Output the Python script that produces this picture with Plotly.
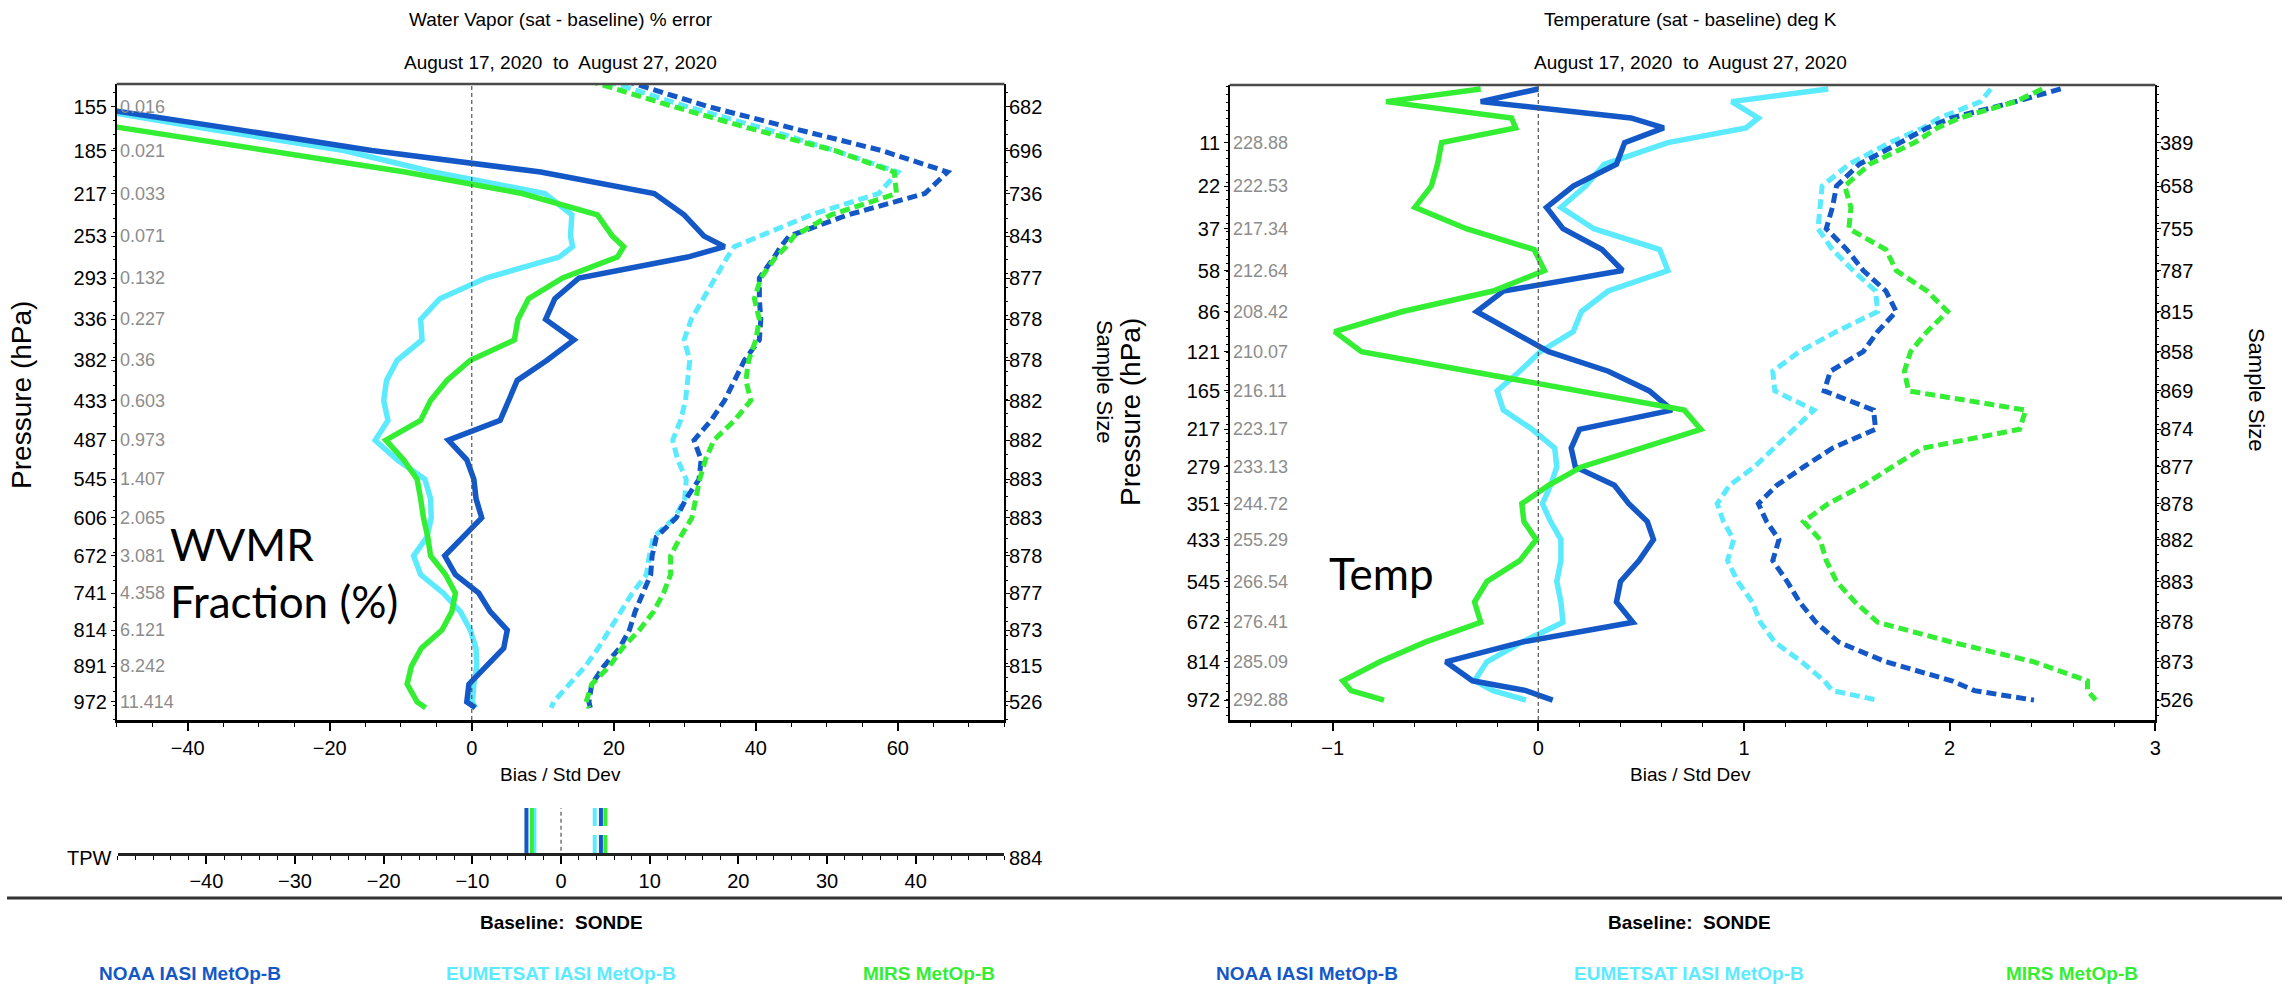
import numpy as np
import plotly.graph_objects as go

# ---------------- Water vapour panel (percent error) ----------------
wv_p = [135.0, 155.9, 170.1, 185.2, 201.0, 217.7, 235.2, 253.7, 263.2, 272.9,
        293.1, 314.1, 336.1, 359.0, 382.8, 407.5, 433.2, 459.7, 487.3, 515.7,
        545.2, 575.5, 606.9, 639.1, 672.4, 706.6, 741.8, 777.8, 814.9, 852.8,
        891.7, 931.5, 972.3, 986.1]

wv_noaa_bias = [-75, -54.0, -33.8, -14.1, 9.7, 25.7, 29.9, 32.7, 35.6, 30.4,
                15.1, 11.7, 10.4, 14.4, 10.6, 6.4, 5.2, 4.0, -3.3, -0.7,
                0.3, 0.6, 1.4, -1.1, -3.8, -2.3, 1.0, 2.6, 5.0, 4.5,
                2.0, -0.4, -0.7, 0.5]
wv_eum_bias = [-75, -55.5, -37.4, -18.0, -5.4, 10.3, 14.1, 13.9, 14.2, 12.3,
               2.0, -4.5, -7.2, -7.0, -10.5, -12.0, -12.4, -11.8, -13.6, -10.5,
               -6.6, -5.8, -5.7, -6.3, -8.2, -7.2, -4.0, -1.6, -0.2, 0.6,
               0.7, 0.3, 0.1, 0.5]
wv_mirs_bias = [-75, -68.8, -48.6, -29.3, -9.4, 7.1, 17.7, 19.8, 21.4, 20.5,
                12.8, 8.0, 6.5, 6.0, -0.2, -3.5, -5.8, -7.2, -12.1, -9.6,
                -7.7, -7.2, -6.8, -6.2, -5.8, -3.7, -2.3, -2.8, -4.2, -7.1,
                -8.5, -9.1, -7.7, -6.5]
wv_noaa_std = [17.5, 33.4, 45.4, 57.7, 67.0, 63.8, 53.0, 44.7, 43.5, 42.6,
               40.5, 40.5, 40.7, 40.5, 38.4, 37.0, 35.6, 33.7, 31.3, 32.3,
               32.0, 30.2, 28.8, 26.0, 25.4, 25.2, 24.0, 23.0, 22.2, 20.8,
               18.6, 16.9, 16.5, 16.7]
wv_eum_std = [15.0, 30.4, 41.2, 51.1, 60.0, 57.3, 47.8, 40.3, 37.0, 36.0,
              34.3, 32.7, 30.9, 29.9, 30.7, 30.4, 30.1, 29.4, 28.3, 29.0,
              30.2, 30.0, 28.6, 25.6, 25.0, 24.6, 22.6, 21.0, 19.4, 17.8,
              16.0, 13.8, 11.5, 11.2]
wv_mirs_std = [12.4, 28.5, 39.3, 51.1, 59.5, 59.8, 50.6, 45.4, 44.3, 42.8,
               40.7, 39.8, 40.5, 40.0, 39.0, 38.6, 39.3, 37.0, 34.1, 32.9,
               32.1, 31.5, 31.0, 29.4, 28.0, 28.0, 27.0, 25.6, 23.6, 21.2,
               19.4, 16.9, 16.1, 16.5]

wv_level_p = [155.9, 185.2, 217.7, 253.7, 293.1, 336.1, 382.8, 433.2, 487.3,
              545.2, 606.9, 672.4, 741.8, 814.9, 891.7, 972.3]
wv_level_mean = ["0.016", "0.021", "0.033", "0.071", "0.132", "0.227", "0.36",
                 "0.603", "0.973", "1.407", "2.065", "3.081", "4.358", "6.121",
                 "8.242", "11.414"]
wv_level_count = ["682", "696", "736", "843", "877", "878", "878", "882", "882",
                  "883", "883", "878", "877", "873", "815", "526"]
wv_p_range = [1015.0, 142.0]

# total precipitable water summary
tpw_bias = {"NOAA": -3.9, "EUMETSAT": -3.0, "MIRS": -3.3}
tpw_std = {"NOAA": 4.5, "EUMETSAT": 3.8, "MIRS": 5.0}
tpw_count = "884"

# ---------------- Temperature panel (K) ----------------
t_p = [4.47, 5.77, 7.82, 9.3, 11.83, 16.43, 22.19, 29.11, 37.45, 47.13,
       58.56, 71.5, 86.4, 103.0, 121.7, 142.3, 165.3, 190.2, 217.7, 247.3,
       279.6, 314.0, 351.3, 390.6, 433.2, 487.0, 545.2, 606.7, 672.4, 741.6,
       814.9, 890.4, 931.5, 972.3]

t_noaa_bias = [0.0, -0.28, 0.45, 0.61, 0.42, 0.38, 0.17, 0.04, 0.12, 0.31,
               0.41, -0.17, -0.30, -0.13, 0.05, 0.34, 0.54, 0.65, 0.20, 0.16,
               0.18, 0.37, 0.44, 0.53, 0.56, 0.49, 0.40, 0.38, 0.46, -0.08,
               -0.45, -0.32, -0.06, 0.07]
t_eum_bias = [1.41, 0.94, 1.07, 1.01, 0.63, 0.32, 0.23, 0.11, 0.27, 0.59,
              0.63, 0.34, 0.21, 0.17, 0.01, -0.09, -0.20, -0.17, -0.03, 0.08,
              0.09, 0.06, 0.02, 0.06, 0.11, 0.11, 0.09, 0.11, 0.12, -0.08,
              -0.25, -0.31, -0.22, -0.06]
t_mirs_bias = [-0.28, -0.74, -0.13, -0.11, -0.47, -0.49, -0.52, -0.60, -0.35, -0.02,
               0.03, -0.22, -0.66, -0.99, -0.86, -0.33, 0.20, 0.71, 0.79, 0.51,
               0.21, 0.05, -0.08, -0.07, -0.01, -0.09, -0.25, -0.31, -0.28, -0.55,
               -0.77, -0.95, -0.91, -0.75]
t_noaa_std = [2.54, 2.32, 2.01, 1.89, 1.76, 1.56, 1.45, 1.43, 1.40, 1.50,
              1.58, 1.69, 1.74, 1.65, 1.58, 1.42, 1.39, 1.63, 1.64, 1.43,
              1.29, 1.16, 1.07, 1.11, 1.17, 1.14, 1.21, 1.27, 1.35, 1.46,
              1.69, 2.01, 2.12, 2.41]
t_eum_std = [2.20, 2.15, 1.95, 1.87, 1.71, 1.51, 1.38, 1.37, 1.36, 1.43,
             1.53, 1.64, 1.65, 1.45, 1.27, 1.14, 1.15, 1.34, 1.24, 1.14,
             1.05, 0.93, 0.87, 0.90, 0.95, 0.92, 0.97, 1.04, 1.08, 1.15,
             1.28, 1.39, 1.43, 1.65]
t_mirs_std = [2.45, 2.32, 2.05, 1.94, 1.83, 1.61, 1.49, 1.52, 1.51, 1.69,
              1.74, 1.89, 1.99, 1.89, 1.81, 1.78, 1.80, 2.37, 2.34, 1.87,
              1.72, 1.58, 1.41, 1.29, 1.37, 1.40, 1.45, 1.54, 1.65, 2.01,
              2.41, 2.67, 2.67, 2.71]

t_level_p = [11.83, 22.19, 37.45, 58.56, 86.4, 121.7, 165.3, 217.7, 279.6,
             351.3, 433.2, 545.2, 672.4, 814.9, 972.3]
t_level_mean = ["228.88", "222.53", "217.34", "212.64", "208.42", "210.07",
                "216.11", "223.17", "233.13", "244.72", "255.29", "266.54",
                "276.41", "285.09", "292.88"]
t_level_count = ["389", "658", "755", "787", "815", "858", "869", "874", "877",
                 "878", "882", "883", "878", "873", "526"]
t_p_range = [1062.0, 4.11]

# ---------------- styling ----------------
COLORS = {"NOAA": "#1358c6", "EUMETSAT": "#5ceaff", "MIRS": "#33ee33"}
NAMES = {"NOAA": "NOAA IASI MetOp-B", "EUMETSAT": "EUMETSAT IASI MetOp-B",
         "MIRS": "MIRS MetOp-B"}
SANS = "Liberation Sans, Arial, sans-serif"
HAND = "Lato, Open Sans, sans-serif"
FS = 20
W, H = 2288, 992


def level_axis(p):
    """Vertical coordinate: pressure raised to 2/7 (sounding level spacing)."""
    return np.asarray(p, dtype=float) ** (2.0 / 7.0)


def px(x):
    return x / W


def py(y):
    return 1 - y / H


fig = go.Figure()

panels = [
    ("x", "y", wv_p,
     {"NOAA": wv_noaa_bias, "EUMETSAT": wv_eum_bias, "MIRS": wv_mirs_bias},
     {"NOAA": wv_noaa_std, "EUMETSAT": wv_eum_std, "MIRS": wv_mirs_std}),
    ("x2", "y2", t_p,
     {"NOAA": t_noaa_bias, "EUMETSAT": t_eum_bias, "MIRS": t_mirs_bias},
     {"NOAA": t_noaa_std, "EUMETSAT": t_eum_std, "MIRS": t_mirs_std}),
]

order = ["EUMETSAT", "NOAA", "MIRS"]
for xa, ya, pres, bias, std in panels:
    yy = level_axis(pres)
    for key in order:
        fig.add_trace(go.Scatter(
            x=std[key], y=yy, mode="lines", xaxis=xa, yaxis=ya,
            line=dict(color=COLORS[key], width=5, dash="10px,5px"),
            showlegend=False, hoverinfo="skip"))
    for key in order:
        fig.add_trace(go.Scatter(
            x=bias[key], y=yy, mode="lines", xaxis=xa, yaxis=ya,
            line=dict(color=COLORS[key], width=5.5),
            showlegend=False, hoverinfo="skip"))

# TPW strip: solid = bias, dashed = standard deviation
for key in order:
    fig.add_trace(go.Scatter(
        x=[tpw_std[key], tpw_std[key]], y=[1, 0], mode="lines",
        xaxis="x3", yaxis="y3",
        line=dict(color=COLORS[key], width=4, dash="18px,9px"),
        showlegend=False, hoverinfo="skip"))
for key in order:
    fig.add_trace(go.Scatter(
        x=[tpw_bias[key], tpw_bias[key]], y=[1, 0], mode="lines",
        xaxis="x3", yaxis="y3",
        line=dict(color=COLORS[key], width=4),
        showlegend=False, hoverinfo="skip"))

tickfont = dict(family=SANS, size=FS, color="black")

xcommon = dict(showline=True, linewidth=3, linecolor="black", mirror=False,
               ticks="outside", ticklen=8, tickwidth=1.5, tickcolor="black",
               showgrid=False, zeroline=False, tickfont=tickfont)
ycommon = dict(showline=True, linewidth=1.5, linecolor="black", mirror="ticks",
               ticks="outside", ticklen=4, tickwidth=1, tickcolor="black",
               showgrid=False, zeroline=False, tickfont=tickfont)
minor_x = dict(ticks="outside", ticklen=4, tickwidth=1, tickcolor="black")

fig.update_layout(
    width=W, height=H, autosize=False,
    margin=dict(l=0, r=0, t=0, b=0),
    paper_bgcolor="white", plot_bgcolor="white",
    xaxis=dict(domain=[px(117), px(1007)], anchor="y", range=[-50, 75],
               tickvals=[-40, -20, 0, 20, 40, 60],
               minor=dict(minor_x, dtick=5, tick0=0), **xcommon),
    yaxis=dict(domain=[py(720), py(84)], anchor="x",
               range=list(level_axis(wv_p_range)),
               tickvals=list(level_axis(wv_level_p)),
               ticktext=[str(int(p)) for p in wv_level_p],
               minor=dict(ticks="outside", ticklen=2, tickcolor="black",
                          dtick=0.068, tick0=float(level_axis(155.9))),
               **ycommon),
    xaxis2=dict(domain=[px(1233), px(2161)], anchor="y2", range=[-1.5, 3],
                tickvals=[-1, 0, 1, 2, 3],
                minor=dict(minor_x, dtick=0.2, tick0=0), **xcommon),
    yaxis2=dict(domain=[py(720), py(85)], anchor="x2",
                range=list(level_axis(t_p_range)),
                tickvals=list(level_axis(t_level_p)),
                ticktext=[str(int(p)) for p in t_level_p],
                minor=dict(ticks="outside", ticklen=2, tickcolor="black",
                           dtick=0.074, tick0=float(level_axis(11.83))),
                **ycommon),
    xaxis3=dict(domain=[px(118), px(1007)], anchor="y3", range=[-50, 50],
                showline=True, linewidth=3, linecolor="#222222",
                ticks="outside", ticklen=8, tickwidth=1.5, tickcolor="black",
                tickvals=list(range(-40, 41, 10)), showgrid=False,
                zeroline=False, tickfont=tickfont,
                minor=dict(minor_x, dtick=2, tick0=0)),
    yaxis3=dict(domain=[py(853), py(808)], anchor="x3", range=[0, 1],
                visible=False, fixedrange=True),
)

zero_dash = dict(color="#555555", width=1.2, dash="4px,3px")
shapes = [
    dict(type="line", xref="x", yref="y domain", x0=0, x1=0, y0=0, y1=1,
         line=zero_dash),
    dict(type="line", xref="x2", yref="y2 domain", x0=0, x1=0, y0=0, y1=1,
         line=zero_dash),
    dict(type="line", xref="x3", yref="y3 domain", x0=0, x1=0, y0=0.05, y1=1,
         line=zero_dash),
    # top frame of each profile panel
    dict(type="line", xref="x domain", yref="y domain", x0=0, x1=1, y0=1, y1=1,
         line=dict(color="#4a4a4a", width=2.5)),
    dict(type="line", xref="x2 domain", yref="y2 domain", x0=0, x1=1, y0=1,
         y1=1, line=dict(color="#4a4a4a", width=2.5)),
    # separator above the baseline / series names
    dict(type="line", xref="paper", yref="paper", x0=px(7), x1=1,
         y0=py(898), y1=py(898), line=dict(color="#333333", width=3)),
]
fig.update_layout(shapes=shapes)

ann = []


def text(x, y, s, size=FS, family=SANS, color="black", xanchor="center",
         yanchor="middle", angle=0, bold=False, align="center"):
    if bold:
        s = "<b>" + s + "</b>"
    ann.append(dict(x=px(x), y=py(y), xref="paper", yref="paper", text=s,
                    showarrow=False, xanchor=xanchor, yanchor=yanchor,
                    textangle=angle, align=align,
                    font=dict(family=family, size=size, color=color)))


NB = "\u00a0"
dates = "August 17, 2020" + NB + " to" + NB + " August 27, 2020"

# titles and axis captions
text(562, 19, "Water Vapor (sat - baseline) % error", size=19)
text(562, 62, dates, size=19)
text(1695, 19, "Temperature (sat - baseline) deg K", size=19)
text(1695, 62, dates, size=19)
text(562, 774, "Bias / Std Dev", size=19)
text(1695, 774, "Bias / Std Dev", size=19)
text(21, 395, "Pressure (hPa)", size=28, angle=-90)
text(1134, 412, "Pressure (hPa)", size=28, angle=-90)
text(1107, 382, "Sample Size", size=22, angle=90)
text(2262, 390, "Sample Size", size=22, angle=90)

# panel notes
text(168, 572, "WVMR<br>Fraction (%)", size=44, family=HAND,
     xanchor="left", align="left")
text(1330, 573, "Temp", size=44, family=HAND, xanchor="left")

# TPW strip labels
text(114, 858, "TPW", xanchor="right")
text(1010, 858, tpw_count, xanchor="left")

# baseline and series names
text(563, 922, "Baseline:" + NB + " SONDE", size=19, bold=True)
text(1694, 922, "Baseline:" + NB + " SONDE", size=19, bold=True)
for cx, key in zip([191, 562, 931], ["NOAA", "EUMETSAT", "MIRS"]):
    text(cx, 973, NAMES[key], size=19, color=COLORS[key], bold=True)
for cx, key in zip([1310, 1693, 2077], ["NOAA", "EUMETSAT", "MIRS"]):
    text(cx, 973, NAMES[key], size=19, color=COLORS[key], bold=True)

# per-level mean values (inside, grey) and sample counts (right side)
for xa, ya, levels, means, counts in [
        ("x", "y", wv_level_p, wv_level_mean, wv_level_count),
        ("x2", "y2", t_level_p, t_level_mean, t_level_count)]:
    for p, m, c in zip(levels, means, counts):
        yv = float(level_axis(p))
        ann.append(dict(x=0, y=yv, xref=xa + " domain", yref=ya, text=m,
                        showarrow=False, xanchor="left", yanchor="middle",
                        xshift=1, font=dict(family=SANS, size=18,
                                            color="#8c8c8c")))
        ann.append(dict(x=1, y=yv, xref=xa + " domain", yref=ya, text=c,
                        showarrow=False, xanchor="left", yanchor="middle",
                        xshift=3, font=dict(family=SANS, size=FS,
                                            color="black")))

fig.update_layout(annotations=ann)

fig.write_html("out.html")
